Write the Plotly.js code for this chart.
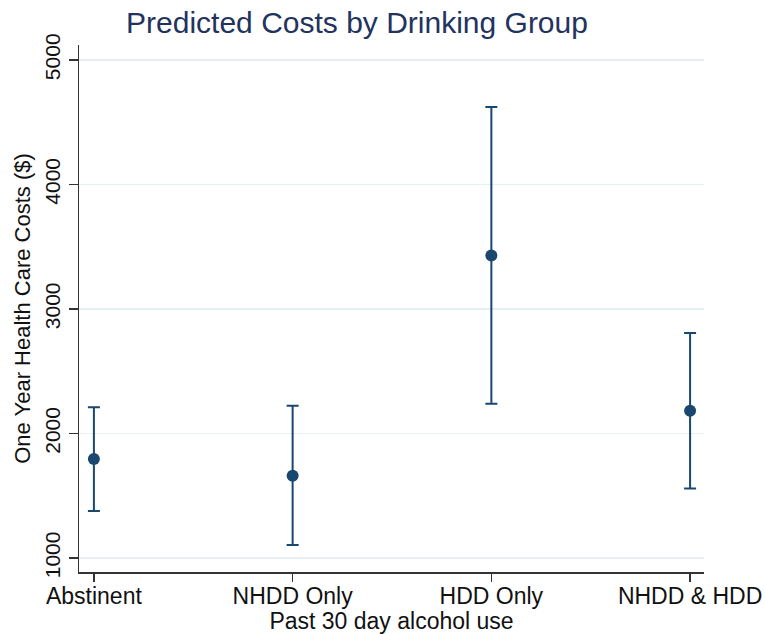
<!DOCTYPE html>
<html>
<head>
<meta charset="utf-8">
<script src="https://cdn.plot.ly/plotly-3.0.1.min.js"></script>
<style>html,body{margin:0;padding:0;background:#fff;}#chart{width:765px;height:634px;}</style>
</head>
<body>
<div id="chart"></div>
<script>
// Data
const groups = ["Abstinent", "NHDD Only", "HDD Only", "NHDD & HDD"];
const predicted = [1795, 1661, 3429, 2183];
const upperCI = [2210, 2223, 4623, 2807];
const lowerCI = [1378, 1104, 2239, 1558];
const yTicks = [1000, 2000, 3000, 4000, 5000];

const navy = "#1a476f";
const font = "Liberation Sans, Arial, Helvetica, sans-serif";

const trace = {
  type: "scatter",
  mode: "markers",
  x: groups,
  y: predicted,
  marker: {color: navy, size: 12},
  error_y: {
    type: "data",
    symmetric: false,
    array: upperCI.map((u, i) => u - predicted[i]),
    arrayminus: lowerCI.map((l, i) => predicted[i] - l),
    color: navy,
    thickness: 2,
    width: 6
  },
  hoverinfo: "x+y"
};

const layout = {
  width: 765,
  height: 634,
  paper_bgcolor: "#ffffff",
  plot_bgcolor: "#ffffff",
  margin: {l: 79, r: 61, t: 45, b: 62},
  showlegend: false,
  font: {family: font, color: "#000000", size: 22},
  title: {
    text: "Predicted Costs by Drinking Group",
    font: {family: font, size: 30, color: "#22335e"},
    x: 357 / 765,
    xanchor: "center",
    xref: "container",
    y: 1 - 22 / 634,
    yanchor: "middle",
    yref: "container"
  },
  xaxis: {
    type: "category",
    range: [-0.075, 3.07],
    showline: true,
    linecolor: "#333333",
    linewidth: 1.5,
    ticks: "outside",
    ticklen: 8,
    tickwidth: 1.5,
    tickcolor: "#333333",
    ticklabelstandoff: -5,
    showgrid: false,
    zeroline: false,
    tickfont: {family: font, size: 23, color: "#111111"},
    title: {text: "Past 30 day alcohol use", font: {family: font, size: 23, color: "#111111"}, standoff: 0},
    automargin: false,
    fixedrange: true
  },
  yaxis: {
    range: [888, 5120],
    tickvals: yTicks,
    ticktext: yTicks.map(String),
    tickangle: -90,
    showline: true,
    linecolor: "#333333",
    linewidth: 1.5,
    ticks: "outside",
    ticklen: 9,
    tickwidth: 1.5,
    tickcolor: "#333333",
    showgrid: true,
    gridcolor: "#e6eff1",
    gridwidth: 1.5,
    zeroline: false,
    tickfont: {family: font, size: 21, color: "#111111"},
    title: {text: "One Year Health Care Costs ($)", font: {family: font, size: 22, color: "#111111"}, standoff: 4},
    automargin: false,
    fixedrange: true
  }
};

Plotly.newPlot("chart", [trace], layout, {displayModeBar: false, staticPlot: true});
</script>
</body>
</html>
